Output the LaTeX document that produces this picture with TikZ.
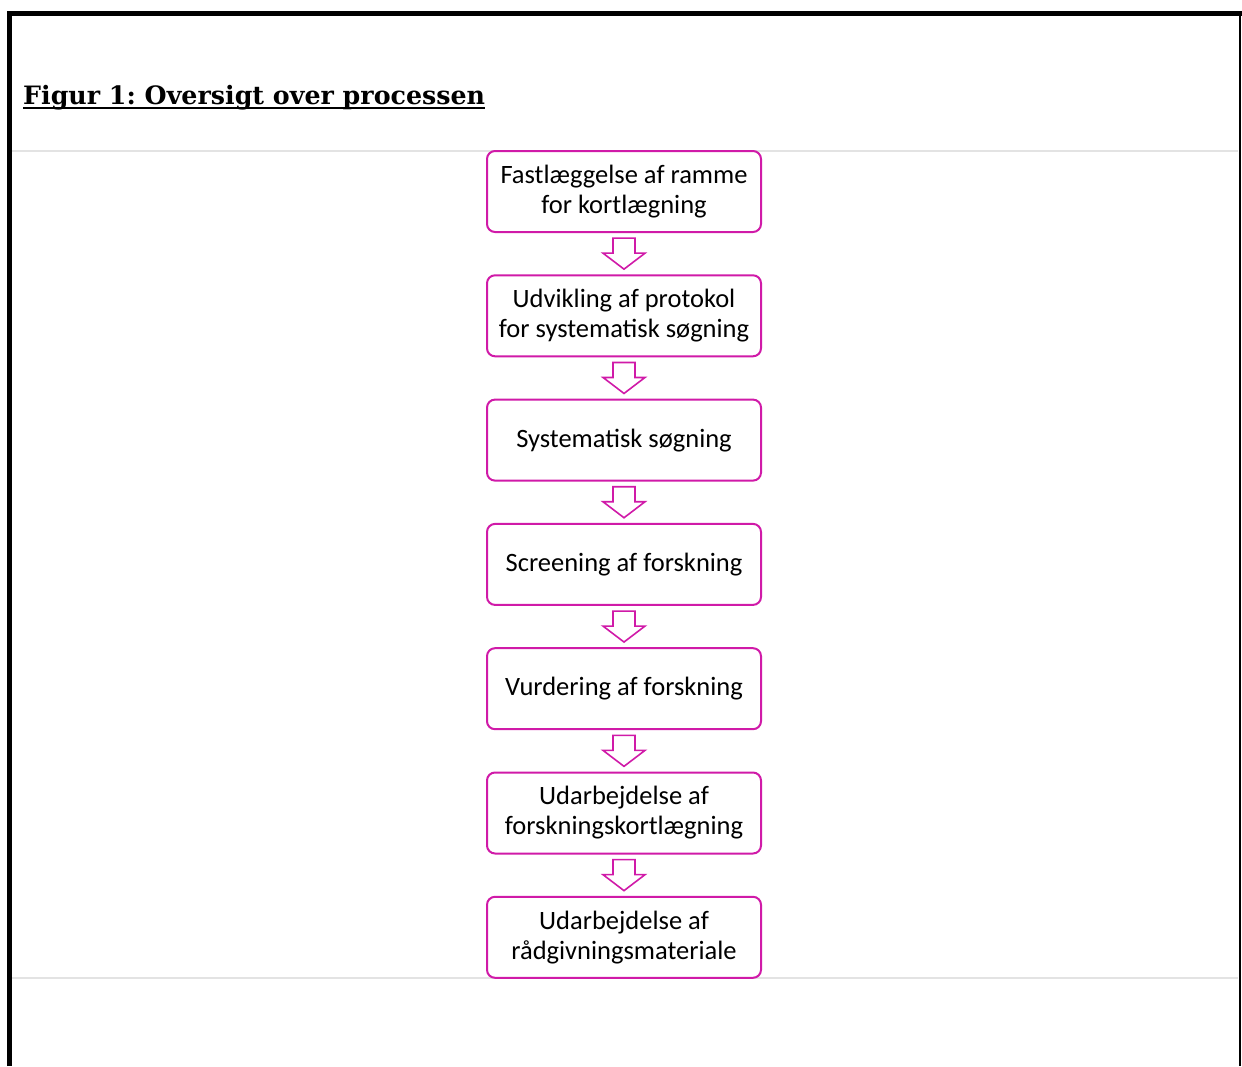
\documentclass[tikz,border=0pt]{standalone}
\usepackage{fontspec}
\setmainfont{Carlito}
\newfontfamily\titlefont{DejaVu Serif}
\usetikzlibrary{positioning,calc}
\definecolor{FlowPink}{HTML}{D01AA8}
\definecolor{RuleGray}{HTML}{E3E3E3}

\begin{document}
\begin{tikzpicture}[
  x=1pt, y=-1pt,
  node distance=41.3pt,
  every node/.style={font=\fontsize{26.5}{30}\selectfont},
  stepbox/.style={draw=FlowPink, fill=white, line width=2pt, rounded corners=8pt, minimum width=274pt, minimum height=81pt, align=center, inner sep=2pt},
  downarrow/.style={draw=FlowPink, fill=white, line width=1.6pt, line join=miter},
  pagerule/.style={RuleGray, line width=1.5pt}
]
\useasboundingbox (0,0) rectangle (1242,1066);
% frame and page rules
\draw[line width=5pt] (9.5,1066) -- (9.5,13) -- (1242,13);
\draw[line width=2pt] (1240,13) -- (1240,1066);
\draw[pagerule] (12,151) -- (1238,151);
\draw[pagerule] (12,978) -- (1238,978);

\node[anchor=base west, inner sep=0pt, font=\titlefont\bfseries\fontsize{25.3}{28}\selectfont\frenchspacing] (title) at (23,104) {Figur 1: Oversigt over processen};
\draw[line width=2pt] ($(title.base west)+(0,4)$) -- ($(title.base east)+(0,4)$);

\node[stepbox] (s1) at (624,191.5) {Fastlæggelse af ramme\\for kortlægning};
\node[stepbox, below=of s1] (s2) {Udvikling af protokol\\for systematisk søgning};
\node[stepbox, below=of s2] (s3) {Systematisk søgning};
\node[stepbox, below=of s3] (s4) {Screening af forskning};
\node[stepbox, below=of s4] (s5) {Vurdering af forskning};
\node[stepbox, below=of s5] (s6) {Udarbejdelse af\\forskningskortlægning};
\node[stepbox, below=of s6] (s7) {Udarbejdelse af\\rådgivningsmateriale};

\foreach \a/\b in {s1/s2, s2/s3, s3/s4, s4/s5, s5/s6, s6/s7} {
  \coordinate (m) at ($(\a.south)!0.5!(\b.north)$);
  \draw[downarrow] ($(m)+(-11,-15.5)$) -- ++(22,0) -- ++(0,15) -- ++(10,0)
    -- ($(m)+(0,15.5)$) -- ($(m)+(-21,-0.5)$) -- ++(10,0) -- cycle;
}
\end{tikzpicture}
\end{document}
